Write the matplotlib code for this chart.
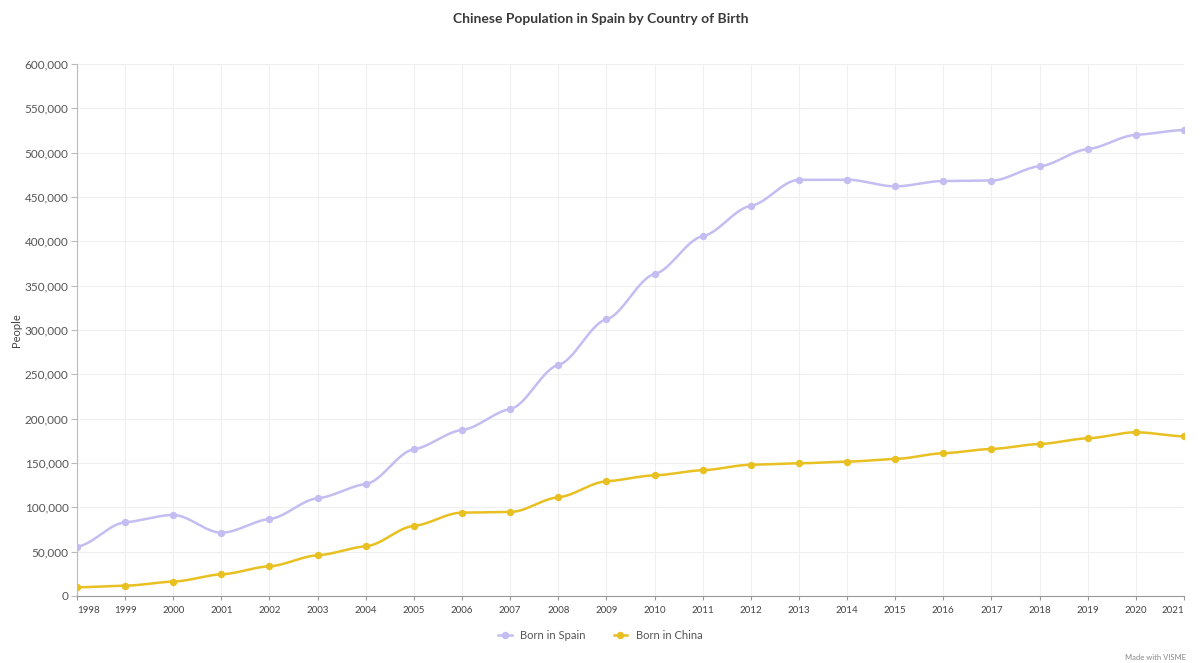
import numpy as np
import matplotlib.pyplot as plt
from matplotlib.ticker import FuncFormatter, MultipleLocator

plt.rcParams['font.family'] = ['Lato', 'DejaVu Sans']

years = list(range(1998, 2022))
born_spain = [55600, 83000, 91300, 71400, 86800, 110200, 126300, 165400, 187200,
              210900, 260500, 312000, 363000, 405700, 440000, 469300, 469500,
              462000, 468000, 468500, 484600, 504000, 520000, 525500]
born_china = [9800, 11600, 16200, 24400, 33500, 45900, 56000, 79000, 94000,
              94700, 111300, 129300, 136000, 141800, 148000, 149600, 151500,
              154500, 161000, 165800, 171400, 177800, 184600, 180000]

spain_color = '#c3bdf1'
china_color = '#e8c021'


def smooth_curve(x, y, tension=0.25, n=30):
    # cubic Hermite curve through the points; tangents are the monotone ones
    # scaled down so the line eases off at every point
    x = np.asarray(x, float)
    y = np.asarray(y, float)
    h = np.diff(x)
    s = np.diff(y) / h
    t = np.zeros_like(y)
    for i in range(1, len(x) - 1):
        p = (s[i - 1] * h[i] + s[i] * h[i - 1]) / (h[i - 1] + h[i])
        t[i] = (np.sign(s[i - 1]) + np.sign(s[i])) * min(abs(s[i - 1]), abs(s[i]), 0.5 * abs(p))
    t *= tension
    t[0] = s[0] * tension
    t[-1] = s[-1] * tension
    xs, ys = [], []
    for i in range(len(x) - 1):
        u = np.linspace(0, 1, n, endpoint=(i == len(x) - 2))
        h00 = 2 * u**3 - 3 * u**2 + 1
        h10 = u**3 - 2 * u**2 + u
        h01 = -2 * u**3 + 3 * u**2
        h11 = u**3 - u**2
        xs.append(x[i] + u * h[i])
        ys.append(h00 * y[i] + h10 * h[i] * t[i] + h01 * y[i + 1] + h11 * h[i] * t[i + 1])
    return np.concatenate(xs), np.concatenate(ys)


fig = plt.figure(figsize=(12.01, 6.63), dpi=100)
ax = fig.add_axes([0.0641, 0.1011, 0.9217, 0.8024])

for vals, color, label in [(born_spain, spain_color, 'Born in Spain'),
                           (born_china, china_color, 'Born in China')]:
    cx, cy = smooth_curve(years, vals)
    ax.plot(cx, cy, color=color, lw=1.8, solid_capstyle='round', zorder=3)
    ax.plot(years, vals, 'o', color=color, ms=4.3, zorder=4)
    ax.plot([], [], '-o', color=color, lw=1.8, ms=4.3, label=label)

ax.set_xlim(1998, 2021)
ax.set_ylim(0, 600000)
ax.yaxis.set_major_locator(MultipleLocator(50000))
ax.yaxis.set_major_formatter(FuncFormatter(lambda v, p: f'{int(v):,}'))
ax.set_xticks(years)
ax.set_xticklabels([str(y) for y in years])
labels = ax.get_xticklabels()
labels[0].set_horizontalalignment('left')
labels[-1].set_horizontalalignment('right')

ax.grid(True, color='#efefef', lw=0.8)
ax.set_axisbelow(True)
for side in ['top', 'right']:
    ax.spines[side].set_visible(False)
ax.spines['left'].set_color('#bbbbbb')
ax.spines['bottom'].set_color('#999999')
ax.tick_params(axis='y', labelsize=8.5, colors='#bbbbbb', labelcolor='#555555', length=4, pad=2)
ax.tick_params(axis='x', labelsize=7, colors='#999999', labelcolor='#444444', length=3, pad=4)

ax.set_ylabel('People', fontsize=8, color='#444444', labelpad=2)
fig.text(0.5, 0.972, 'Chinese Population in Spain by Country of Birth', ha='center', va='center',
         fontsize=10, fontweight='bold', color='#3a3a3a')

fig.legend(loc='center', bbox_to_anchor=(0.5, 0.042), ncol=2, frameon=False, fontsize=8,
           handlelength=1.2, columnspacing=2.5, labelcolor='#555555')
fig.text(0.962, 0.003, 'Made with VISME', ha='center', va='bottom', fontsize=5.5, color='#888888')

fig.savefig('out.png', dpi=100)
